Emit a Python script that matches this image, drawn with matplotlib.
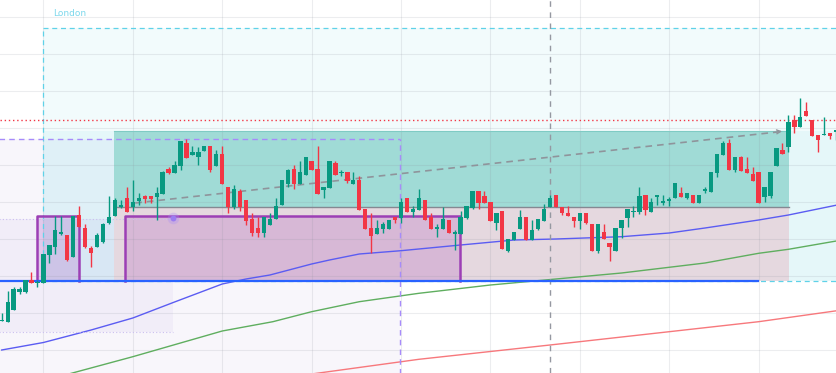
"""Candlestick chart with London session box, position tool and moving averages."""

import matplotlib
matplotlib.use("Agg")
import matplotlib.pyplot as plt
from matplotlib.patches import Rectangle

# OHLC (price units, higher = up)
opens = [52, 51, 63, 81.3, 81, 93, 90, 90.3, 118, 126.3, 139.5, 138, 116.3, 157.7, 145,
         124.7, 126.3, 131.3, 150.3, 157.3, 166.5, 174.7, 166.3, 172.3, 177, 176.7, 176.3,
         179, 204, 200, 207, 230.3, 218.3, 216.3, 222, 227, 207, 219, 185.7, 166.3, 182.3,
         173, 153.7, 145, 140.3, 148.3, 153.7, 168, 189, 204, 189, 198, 212, 204, 183,
         185.3, 210.3, 200, 200.7, 189, 193, 164, 145.3, 139, 144, 144, 156.3, 155.3, 174.7,
         161.3, 163, 173, 156.3, 144.5, 144, 153, 139.5, 139, 155.3, 165.3, 182, 177, 171,
         150.3, 162, 122, 133, 144, 155.7, 133, 144, 152, 165.7, 178, 166.3, 160.3, 156.3,
         152.3, 159.7, 148.7, 122.3, 140.7, 130.3, 122.3, 144.7, 155.3, 161, 161.3, 178,
         161.3, 176.5, 170.5, 172.5, 174.7, 180.3, 174.7, 178, 170.3, 182.5, 181.3, 200.3,
         218, 230.3, 203, 216.3, 204, 199, 201.3, 175.7, 177, 207, 223, 226.3, 253, 246.3,
         262, 253, 238, 238, 240.3, 241.5]
highs = [60, 82, 86, 86, 93, 101, 93, 119, 128, 157.3, 157.3, 138, 157, 167, 149, 127,
         140.3, 150.3, 177, 174.7, 173, 185.7, 193, 179.7, 178, 176.7, 186.3, 202, 206.3,
         212, 232.3, 234, 227, 226.3, 227, 227, 223, 227.3, 185.7, 188, 183.7, 173, 159.7,
         155.7, 156.3, 159.7, 175, 193, 204, 208, 212, 216.3, 212, 227, 186.3, 212, 212.3,
         203, 200.7, 200.7, 197, 164, 159.7, 153, 151.3, 153, 156.3, 174.7, 174.7, 167, 184,
         173, 159.7, 149, 166.3, 153, 143, 162, 167, 182, 182, 182, 171, 159.7, 162, 134,
         141, 163, 155.7, 153, 154, 168.7, 178, 178, 166.3, 167, 156.3, 159.7, 159.7, 148.7,
         148.7, 149, 130.3, 144.7, 153, 164, 167, 186.3, 178, 175.3, 177, 178, 176.3, 190,
         186.3, 179.7, 178, 178, 186.3, 201, 219, 232, 234, 216.3, 217, 215.7, 205.7, 201.3,
         186.3, 201, 225, 229.7, 258, 258, 275, 270.7, 253, 238, 255.7, 240.3, 242]
lows = [52, 51, 63, 79, 80, 90, 86, 90, 110, 119, 138, 112, 116.3, 146.3, 125.3, 106.3,
        125.7, 130.3, 149, 157.3, 164.7, 161.3, 162, 168, 169.7, 169.7, 153, 179, 199, 200,
        203, 215.3, 218.3, 208, 222, 201, 207, 189, 160.3, 163.7, 162.3, 148, 137, 136.3,
        136.3, 148.3, 153.7, 168, 186.3, 184, 189, 198, 203, 179, 175.3, 185.3, 198, 197,
        190.3, 189, 163, 144, 119.7, 139, 140.3, 144, 149.7, 149.7, 161.3, 156.3, 163, 153,
        144, 136.3, 144, 140.3, 123, 139, 153.7, 164.3, 164.3, 170.3, 152, 143, 123.7, 121,
        133, 144, 133, 133, 143, 152, 165.7, 166.3, 158, 157, 145.7, 143.7, 149, 122.3,
        119.7, 133.7, 112.3, 122.3, 134.7, 145.7, 155.7, 159, 158, 161.3, 168, 168, 167,
        174.7, 175.7, 173.7, 170.3, 170.3, 179.7, 181.3, 195.7, 218, 203, 201.3, 202.3,
        200.3, 192.3, 169.7, 171.3, 174.7, 207, 218.7, 221.3, 240.3, 246.3, 257, 237, 221.3,
        238, 233.7, 233]
closes = [52.5, 71, 84, 84, 93, 90, 90.5, 119, 128, 143, 140, 113, 157, 146.3, 126.3,
          120.3, 138, 149, 155.7, 173, 167, 161.3, 170.7, 175, 174, 174, 179.7, 201, 200,
          208, 232.3, 215.3, 221, 221.3, 227, 203, 219, 189, 166.3, 183.7, 166.3, 152.3,
          140.3, 140.3, 156.3, 154, 167, 193, 203, 189, 201.3, 216.3, 203, 179, 186.3, 212,
          198, 200.3, 192, 193, 163, 144, 137, 145.3, 149, 153, 153, 171.3, 161.3, 164,
          174.7, 153, 144, 145, 154, 140.3, 140, 155.7, 167, 182, 170.3, 170.3, 152, 159.7,
          123.7, 134, 141, 155.7, 133, 143, 154, 164, 175, 166.3, 159.7, 157, 152.3, 159.7,
          150.3, 122.3, 148.7, 133.7, 126.3, 144.7, 153, 164, 161.5, 177, 163, 170.7, 177,
          171, 173, 189.7, 175.7, 179.7, 170.3, 178, 183, 201, 219, 230.3, 203, 216.3, 202.3,
          200.3, 192.3, 169.7, 186.3, 201, 225, 218.7, 251, 246.3, 256.3, 257, 237, 233,
          238.5, 237, 242]

# moving averages, read at a handful of bars
ma_fast_bars = [0, 7, 15, 22, 29, 33, 37, 41, 45, 52, 55, 60, 67, 77, 86, 93, 104, 112,
                118, 127, 132, 141]
ma_fast = [23, 30.5, 43, 55, 71, 80, 89, 94, 98, 109, 113, 119, 122.3, 128, 133, 134,
           136.3, 140, 145, 153, 158, 169]
ma_mid_bars = [10, 22, 37, 45.5, 52, 60, 70, 82, 93, 104, 118, 127, 132, 141]
ma_mid = [-3, 16.3, 42, 51.3, 61.3, 71.3, 79.7, 88, 94, 100, 110, 119.7, 123.7, 133]
ma_slow_bars = [52, 70, 92, 112, 127, 141]
ma_slow = [-1, 13.7, 28, 41.3, 51.3, 63]

GREEN = "#089981"
RED = "#f23645"

fig = plt.figure(figsize=(8.37, 3.73), dpi=100)
ax = fig.add_axes([0, 0, 1, 1])
ax.set_xlim(-0.285, 140.15)
ax.set_ylim(0, 373)
ax.axis("off")


def box(x0, x1, p0, p1, **kw):
    ax.add_patch(Rectangle((x0, p0), x1 - x0, p1 - p0, linewidth=0, **kw))


# zones
box(-1, 66.8, -5, 234, facecolor="#7e57c2", alpha=0.05, zorder=0.5)
box(-1, 28.7, 41, 154, facecolor="#7e57c2", alpha=0.05, zorder=0.6)
box(6.93, 142, 92, 344.7, facecolor="#00bcd4", alpha=0.05, zorder=0.7)
box(6.93, 142, 92, 242, facecolor="#00bcd4", alpha=0.05, zorder=0.8)
box(18.84, 132.1, 166.5, 242, facecolor="#a0dbd6", zorder=1)
box(18.84, 132.1, 92.5, 166.5, facecolor="#e5d8df", zorder=1)
box(5.92, 12.97, 92.5, 157, facecolor="#9c27b0", alpha=0.18, zorder=1.2)
box(20.74, 76.9, 92.5, 157, facecolor="#9c27b0", alpha=0.18, zorder=1.2)

# grid
for gx in range(7, 141, 15):
    ax.axvline(gx, color="#8a909c", alpha=0.16, lw=0.8, zorder=1.5)
for gy in range(23, 373, 37):
    ax.axhline(gy, color="#8a909c", alpha=0.16, lw=0.8, zorder=1.5)

# moving averages
ax.plot(ma_fast_bars, ma_fast, color="#5b5cf2", lw=1.0, zorder=2)
ax.plot(ma_mid_bars, ma_mid, color="#5fae5f", lw=1.0, zorder=2)
ax.plot(ma_slow_bars, ma_slow, color="#f7787c", lw=1.0, zorder=2)

# session / level lines
cyan = "#5fd2e8"
ax.plot([6.93, 142], [344.7, 344.7], color=cyan, lw=0.9, ls=(0, (4, 3)), zorder=2.1)
ax.plot([6.93, 6.93], [92, 344.7], color=cyan, lw=0.9, ls=(0, (4, 3)), zorder=2.1)
ax.plot([6.93, 142], [92, 92], color=cyan, lw=0.9, ls=(0, (4, 3)), zorder=2.1)
ax.text(8.6, 359, "London", color="#7dd8ec", fontsize=6.5, va="center", zorder=4)

ax.plot([-1, 28.7], [154, 154], color="#cbbff0", lw=0.8, ls=(0, (1, 2)), zorder=2.1)
ax.plot([-1, 28.7], [41, 41], color="#cbbff0", lw=0.8, ls=(0, (1, 2)), zorder=2.1)

ax.plot([-1, 66.8], [234, 234], color="#a78bfa", lw=1.0, ls=(0, (4, 3)), zorder=2.1)
ax.plot([66.8, 66.8], [-5, 234], color="#a78bfa", lw=1.0, ls=(0, (4, 3)), zorder=2.1)
ax.axvline(92.0, color="#9598a1", lw=1.0, ls=(0, (4, 4)), zorder=2.1)
ax.axhline(253, color=RED, lw=1.0, ls=(0, (1, 2)), zorder=2.1)

ax.plot([18.84, 132.1], [242, 242], color="#7fcbc4", lw=0.8, zorder=2.1)
ax.plot([18.84, 132.1], [166.5, 166.5], color="#858892", lw=1.0, zorder=2.1)

purple = "#9c3fb5"
for x0, x1 in [(5.92, 12.97), (20.74, 76.9)]:
    ax.plot([x0, x0, x1, x1], [92.5, 157, 157, 92.5], color=purple, lw=1.8, zorder=2.2)

ax.plot([-1, 126.9], [92.5, 92.5], color="#2962ff", lw=1.6, zorder=2.3)

# trend line with arrow
ax.plot([22.4, 131.2], [170, 241.7], color="#8f949b", lw=1.2, ls=(0, (4, 3)), zorder=2.5)
ax.annotate("", xy=(131.4, 242), xytext=(129.8, 241),
            arrowprops=dict(arrowstyle="->", color="#8f949b", lw=1.0, mutation_scale=7),
            zorder=2.5)

ax.scatter([28.7], [155], s=70, color="#a78bfa", alpha=0.3, linewidths=0, zorder=2.6)
ax.scatter([28.7], [155], s=18, color="#9b7cf0", linewidths=0, zorder=2.7)

# candles
idx = list(range(len(opens)))
cols = [GREEN if c >= o else RED for o, c in zip(opens, closes)]
bottoms = [min(o, c) for o, c in zip(opens, closes)]
heights = [max(abs(c - o), 1.2) for o, c in zip(opens, closes)]
ax.vlines(idx, lows, highs, colors=cols, lw=1.0, zorder=2.9)
ax.bar(idx, heights, bottom=bottoms, width=0.72, color=cols, linewidth=0, zorder=3)

fig.savefig("out.png", dpi=100)
